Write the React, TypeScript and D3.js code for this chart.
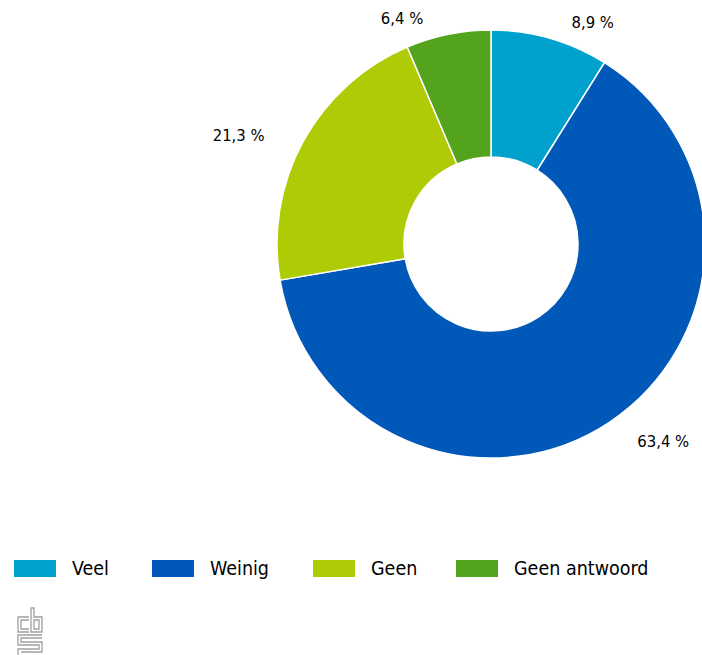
import React from "react";
import * as d3 from "d3";

const categories = ["Veel", "Weinig", "Geen", "Geen antwoord"];
const values = [8.9, 63.4, 21.3, 6.4];
const valueLabels = ["8,9 %", "63,4 %", "21,3 %", "6,4 %"];
const colors = ["#00a1cd", "#0058b8", "#afcb05", "#53a31d"];

const W = 702;
const H = 655;
const cx = 491;
const cy = 244;
const outerR = 214;
const innerR = 87;
const labelR = 234;
const FONT = "'DejaVu Sans Condensed', 'Liberation Sans Narrow', sans-serif";

export default function App() {
  const pie = d3.pie<number>().sort(null).value((d) => d)(values);
  const arc = d3.arc<d3.PieArcDatum<number>>().innerRadius(innerR).outerRadius(outerR);
  const legendX = [14, 152, 313, 456];

  return (
    <svg width={W} height={H} style={{ position: "absolute", left: 0, top: 0 }}>
      <rect width={W} height={H} fill="#fff" />
      <g transform={`translate(${cx},${cy})`}>
        {pie.map((p, i) => (
          <path key={i} d={arc(p) || ""} fill={colors[i]} stroke="#fff" strokeWidth={1.5} strokeLinejoin="round" />
        ))}
        {pie.map((p, i) => {
          const mid = (p.startAngle + p.endAngle) / 2;
          const x = Math.sin(mid) * labelR;
          const y = -Math.cos(mid) * labelR;
          const right = x >= 0;
          return (
            <text
              key={i}
              x={x + (right ? 16 : -21)}
              y={y + 9}
              textAnchor={right ? "start" : "end"}
              fontFamily={FONT}
              fontSize={16.5}
              fill="#000"
            >
              {valueLabels[i]}
            </text>
          );
        })}
      </g>
      <g>
        {categories.map((c, i) => (
          <g key={c} transform={`translate(${legendX[i]},560)`}>
            <rect x={0} y={0} width={42} height={17} fill={colors[i]} />
            <text x={58} y={15} fontFamily={FONT} fontSize={19.5} fill="#000">
              {c}
            </text>
          </g>
        ))}
      </g>
      <g fill="none" stroke="#a0a0a0" strokeWidth={1.3}>
        <path d="M29,617 H18 V632 H29 M29,620 H21 V629 H29" />
        <path d="M31,608 V632 H42 V617 H34 V608 Z M34,620 H39 V629 H34 Z" />
        <path d="M42,635 H18 V645 H39 V649 H18 V655 M42,638 H21 V642 H42 V652 H21" />
      </g>
    </svg>
  );
}
